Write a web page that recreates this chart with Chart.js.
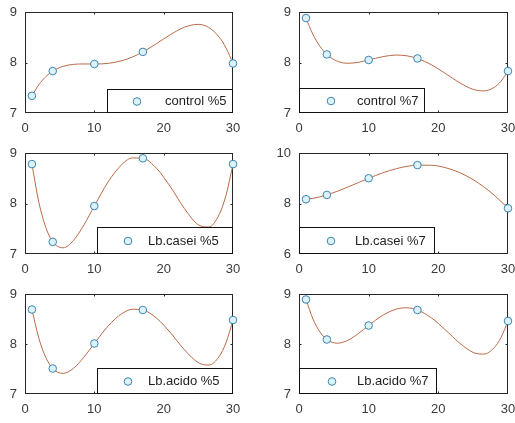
<!DOCTYPE html>
<html>
<head>
<meta charset="utf-8">
<script src="https://cdn.jsdelivr.net/npm/chart.js@4.4.1/dist/chart.umd.min.js"></script>
<style>
  html, body { margin: 0; padding: 0; background: #ffffff; }
  #fig { position: relative; width: 515px; height: 423px; overflow: hidden; background: #ffffff; }
  .panel { position: absolute; }
  .panel canvas { display: block; }
</style>
</head>
<body>
<div id="fig"></div>
<script>
// Sampling days (measured points)
const days = [1, 4, 10, 17, 30];

// Days at which each fitted curve is tabulated
const curveDays = [1, 2, 3, 4, 5.5, 7, 8.5, 10, 12, 14, 15.5, 17, 19, 21, 23, 25, 26.5, 28, 29, 30];

// Measured values
const control5 = [7.34, 7.83, 7.97, 8.21, 7.98];
const control7 = [8.88, 8.16, 8.05, 8.08, 7.83];
const casei5   = [8.78, 7.24, 7.95, 8.895, 8.78];
const casei7   = [8.17, 8.34, 9.00, 9.52, 7.81];
const acido5   = [8.69, 7.51, 8.01, 8.68, 8.48];
const acido7   = [8.89, 8.09, 8.37, 8.68, 8.46];

// Fitted curves, one value per entry of curveDays
const control5Fit = [7.34, 7.561, 7.720, 7.83, 7.925, 7.963, 7.971, 7.97, 7.983, 8.037, 8.109, 8.21, 8.377, 8.554, 8.699, 8.755, 8.694, 8.504, 8.287, 7.98];
const control7Fit = [8.88, 8.557, 8.322, 8.16, 8.025, 7.985, 8.003, 8.05, 8.115, 8.147, 8.132, 8.08, 7.955, 7.784, 7.603, 7.468, 7.437, 7.506, 7.630, 7.83];
const casei5Fit   = [8.78, 8.024, 7.526, 7.24, 7.123, 7.270, 7.576, 7.95, 8.431, 8.777, 8.902, 8.895, 8.692, 8.324, 7.898, 7.578, 7.535, 7.780, 8.167, 8.78];
const casei7Fit   = [8.17, 8.204, 8.262, 8.34, 8.484, 8.651, 8.826, 9.00, 9.212, 9.382, 9.471, 9.52, 9.515, 9.421, 9.231, 8.944, 8.665, 8.332, 8.082, 7.81];
const acido5Fit   = [8.69, 8.114, 7.732, 7.51, 7.412, 7.515, 7.737, 8.01, 8.361, 8.610, 8.695, 8.68, 8.514, 8.221, 7.884, 7.626, 7.579, 7.749, 8.029, 8.48];
const acido7Fit   = [8.89, 8.502, 8.242, 8.09, 8.016, 8.073, 8.207, 8.37, 8.572, 8.700, 8.724, 8.68, 8.523, 8.284, 8.025, 7.831, 7.798, 7.924, 8.131, 8.46];

// Tick labels
const xTicks = [0, 10, 20, 30];
const yTicks789 = [7, 8, 9];
const yTicks6810 = [6, 8, 10];

// Legend entries
const seriesNames = ['control %5', 'control %7', 'Lb.casei %5', 'Lb.casei %7', 'Lb.acido %5', 'Lb.acido %7'];

// ---- layout of the 3 x 2 grid of axes ----
const FONT = "'Liberation Sans', Arial, Helvetica, sans-serif";
const AXIS_COLOR = '#262626';
const LABEL_COLOR = '#3a3a3a';
const LINE_COLOR = '#b86a48';
const MARKER_EDGE = '#3b86b0';
const MARKER_FACE = '#dcf2f8';

const columns = [
  { left: 0,   width: 250, axisW: 25, padRight: 17 },
  { left: 258, width: 257, axisW: 41, padRight: 7 }
];
const rows = [
  { top: 0,   height: 140, padTop: 12, axisH: 27 },
  { top: 140, height: 141, padTop: 13, axisH: 27 },
  { top: 281, height: 142, padTop: 13, axisH: 29 }
];

const panels = [
  { vals: control5, fit: control5Fit, name: seriesNames[0], yTicks: yTicks789, col: 0, row: 0,
    legend: { anchor: 'right', w: 126, h: 24, markerDx: 30, textDx: 58 } },
  { vals: control7, fit: control7Fit, name: seriesNames[1], yTicks: yTicks789, col: 1, row: 0,
    legend: { anchor: 'left', w: 126, h: 25, markerDx: 32, textDx: 58 } },
  { vals: casei5, fit: casei5Fit, name: seriesNames[2], yTicks: yTicks789, col: 0, row: 1,
    legend: { anchor: 'right', w: 136, h: 27, markerDx: 31, textDx: 51 } },
  { vals: casei7, fit: casei7Fit, name: seriesNames[3], yTicks: yTicks6810, col: 1, row: 1,
    legend: { anchor: 'left', w: 136, h: 27, markerDx: 32, textDx: 56 } },
  { vals: acido5, fit: acido5Fit, name: seriesNames[4], yTicks: yTicks789, col: 0, row: 2,
    legend: { anchor: 'right', w: 136, h: 26, markerDx: 31, textDx: 51 } },
  { vals: acido7, fit: acido7Fit, name: seriesNames[5], yTicks: yTicks789, col: 1, row: 2,
    legend: { anchor: 'left', w: 138, h: 26, markerDx: 33, textDx: 58 } }
];

// Axes frame with small inward ticks
const axesBox = {
  id: 'axesBox',
  beforeDatasetsDraw(chart) {
    const { ctx, chartArea: a, scales } = chart;
    const L = Math.round(a.left) + 0.5, R = Math.round(a.right) - 0.5;
    const T = Math.round(a.top) + 0.5, B = Math.round(a.bottom) - 0.5;
    ctx.save();
    ctx.strokeStyle = AXIS_COLOR;
    ctx.lineWidth = 1;
    ctx.strokeRect(L, T, R - L, B - T);
    ctx.beginPath();
    scales.x.ticks.forEach(t => {
      const px = Math.round(scales.x.getPixelForValue(t.value)) + 0.5;
      if (px > L + 1 && px < R - 1) {
        ctx.moveTo(px, B); ctx.lineTo(px, B - 2);
        ctx.moveTo(px, T); ctx.lineTo(px, T + 2);
      }
    });
    scales.y.ticks.forEach(t => {
      const py = Math.round(scales.y.getPixelForValue(t.value)) + 0.5;
      if (py > T + 1 && py < B - 1) {
        ctx.moveTo(L, py); ctx.lineTo(L + 2, py);
        ctx.moveTo(R, py); ctx.lineTo(R - 2, py);
      }
    });
    ctx.stroke();
    ctx.restore();
  }
};

// Boxed legend sitting on the bottom edge of the axes
const boxedLegend = {
  id: 'boxedLegend',
  afterDatasetsDraw(chart, args, opts) {
    const { ctx, chartArea: a } = chart;
    const lg = opts.layout;
    const bottom = Math.round(a.bottom);
    const x0 = lg.anchor === 'right' ? Math.round(a.right) - lg.w : Math.round(a.left);
    const y0 = bottom - lg.h;
    ctx.save();
    ctx.fillStyle = '#ffffff';
    ctx.fillRect(x0, y0, lg.w, lg.h);
    ctx.strokeStyle = '#111111';
    ctx.lineWidth = 1;
    ctx.strokeRect(x0 + 0.5, y0 + 0.5, lg.w - 1, lg.h - 1);
    const cy = y0 + lg.h / 2 + 0.5;
    ctx.beginPath();
    ctx.arc(x0 + lg.markerDx, cy, 3.8, 0, Math.PI * 2);
    ctx.fillStyle = MARKER_FACE;
    ctx.fill();
    ctx.strokeStyle = MARKER_EDGE;
    ctx.stroke();
    ctx.fillStyle = '#1e1e1e';
    ctx.font = '13px ' + FONT;
    ctx.textAlign = 'left';
    ctx.textBaseline = 'middle';
    ctx.fillText(opts.text, x0 + lg.textDx, cy);
    ctx.restore();
  }
};

const fig = document.getElementById('fig');

panels.forEach(p => {
  const c = columns[p.col], r = rows[p.row];
  const holder = document.createElement('div');
  holder.className = 'panel';
  holder.style.left = c.left + 'px';
  holder.style.top = r.top + 'px';
  holder.style.width = c.width + 'px';
  holder.style.height = r.height + 'px';
  const canvas = document.createElement('canvas');
  canvas.width = c.width;
  canvas.height = r.height;
  canvas.style.width = c.width + 'px';
  canvas.style.height = r.height + 'px';
  holder.appendChild(canvas);
  fig.appendChild(holder);

  const yMin = p.yTicks[0], yMax = p.yTicks[p.yTicks.length - 1];

  new Chart(canvas, {
    type: 'scatter',
    data: {
      datasets: [
        {
          data: days.map((d, i) => ({ x: d, y: p.vals[i] })),
          showLine: false,
          pointStyle: 'circle',
          pointRadius: 3.8,
          pointBorderWidth: 1,
          pointBorderColor: MARKER_EDGE,
          pointBackgroundColor: MARKER_FACE,
          clip: false
        },
        {
          data: curveDays.map((d, i) => ({ x: d, y: p.fit[i] })),
          showLine: true,
          pointRadius: 0,
          borderColor: LINE_COLOR,
          borderWidth: 1,
          cubicInterpolationMode: 'monotone',
          fill: false
        }
      ]
    },
    options: {
      responsive: false,
      animation: false,
      devicePixelRatio: 1,
      events: [],
      layout: { padding: { left: 0, right: c.padRight, top: r.padTop, bottom: 0 } },
      plugins: {
        legend: { display: false },
        tooltip: { enabled: false },
        boxedLegend: { layout: p.legend, text: p.name }
      },
      scales: {
        x: {
          type: 'linear',
          min: 0, max: 30,
          grid: { display: false, drawTicks: false },
          border: { display: false },
          ticks: { color: LABEL_COLOR, font: { family: FONT, size: 13 }, padding: 8, maxRotation: 0, autoSkip: false },
          afterBuildTicks: s => { s.ticks = xTicks.map(v => ({ value: v })); },
          afterFit: s => { s.height = r.axisH; s.paddingLeft = 0; s.paddingRight = 0; }
        },
        y: {
          type: 'linear',
          min: yMin, max: yMax,
          grid: { display: false, drawTicks: false },
          border: { display: false },
          ticks: { color: LABEL_COLOR, font: { family: FONT, size: 13 }, padding: 8, autoSkip: false },
          afterBuildTicks: s => { s.ticks = p.yTicks.map(v => ({ value: v })); },
          afterFit: s => { s.width = c.axisW; s.paddingTop = 0; s.paddingBottom = 0; }
        }
      }
    },
    plugins: [axesBox, boxedLegend]
  });
});
</script>
</body>
</html>
